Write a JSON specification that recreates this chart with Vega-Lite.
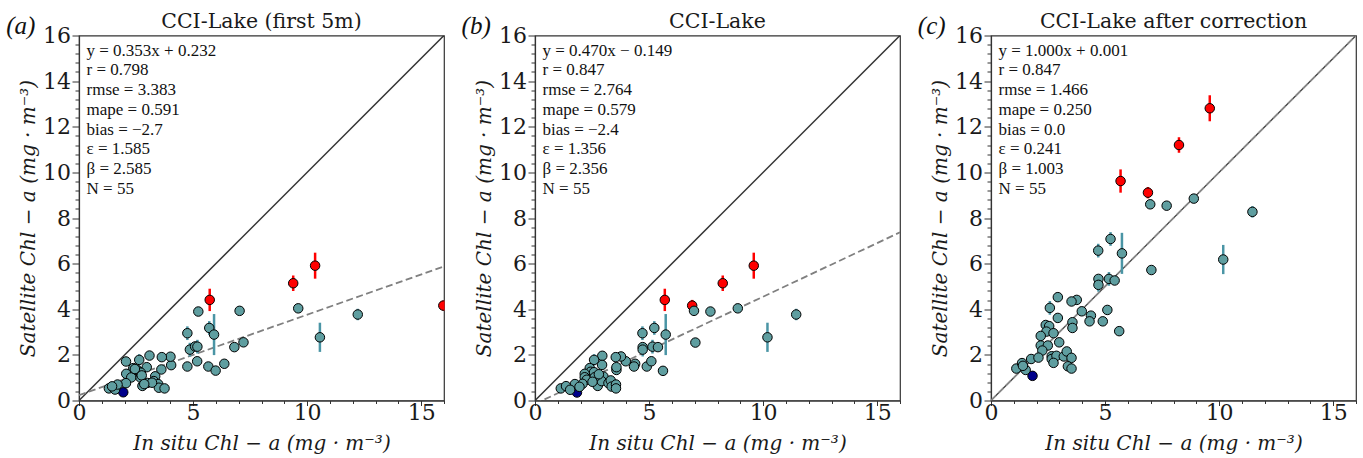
{
  "$schema": "https://vega.github.io/schema/vega-lite/v6.json",
  "padding": {"left": 5, "top": 11.5, "right": 0, "bottom": 0},
  "background": "white",
  "bounds": "flush",
  "spacing": 91,
  "datasets": {
    "pts": [
      {"p":"a","g":"r","x":5.73,"y":4.41,"e":0.49},
      {"p":"a","g":"r","x":9.39,"y":5.14,"e":0.34},
      {"p":"a","g":"r","x":10.35,"y":5.91,"e":0.57},
      {"p":"a","g":"r","x":15.97,"y":4.16,"e":0.22},
      {"p":"a","g":"b","x":1.94,"y":0.36,"e":0.05},
      {"p":"a","g":"t","x":5.23,"y":3.90,"e":0.1},
      {"p":"a","g":"t","x":7.04,"y":3.93,"e":0.15},
      {"p":"a","g":"t","x":9.61,"y":4.04,"e":0.1},
      {"p":"a","g":"t","x":12.22,"y":3.77,"e":0.25},
      {"p":"a","g":"t","x":10.56,"y":2.77,"e":0.64},
      {"p":"a","g":"t","x":5.71,"y":3.18,"e":0.3},
      {"p":"a","g":"t","x":5.92,"y":2.89,"e":0.9},
      {"p":"a","g":"t","x":4.75,"y":2.95,"e":0.3},
      {"p":"a","g":"t","x":4.86,"y":2.23,"e":0.3},
      {"p":"a","g":"t","x":5.09,"y":2.37,"e":0.15},
      {"p":"a","g":"t","x":5.19,"y":2.36,"e":0.3},
      {"p":"a","g":"t","x":6.81,"y":2.34,"e":0.12},
      {"p":"a","g":"t","x":7.21,"y":2.55,"e":0.1},
      {"p":"a","g":"t","x":4.75,"y":1.49,"e":0.1},
      {"p":"a","g":"t","x":5.18,"y":1.72,"e":0.1},
      {"p":"a","g":"t","x":5.67,"y":1.49,"e":0.1},
      {"p":"a","g":"t","x":5.99,"y":1.31,"e":0.1},
      {"p":"a","g":"t","x":6.37,"y":1.61,"e":0.1},
      {"p":"a","g":"t","x":4.04,"y":1.55,"e":0.1},
      {"p":"a","g":"t","x":4.01,"y":1.92,"e":0.1},
      {"p":"a","g":"t","x":3.63,"y":1.90,"e":0.1},
      {"p":"a","g":"t","x":3.09,"y":1.97,"e":0.15},
      {"p":"a","g":"t","x":3.61,"y":1.36,"e":0.1},
      {"p":"a","g":"t","x":2.97,"y":1.46,"e":0.1},
      {"p":"a","g":"t","x":2.64,"y":1.78,"e":0.25},
      {"p":"a","g":"t","x":2.06,"y":1.71,"e":0.1},
      {"p":"a","g":"t","x":2.38,"y":1.42,"e":0.1},
      {"p":"a","g":"t","x":2.60,"y":1.29,"e":0.1},
      {"p":"a","g":"t","x":2.07,"y":1.17,"e":0.1},
      {"p":"a","g":"t","x":2.29,"y":1.01,"e":0.1},
      {"p":"a","g":"t","x":2.70,"y":1.00,"e":0.1},
      {"p":"a","g":"t","x":3.34,"y":1.06,"e":0.1},
      {"p":"a","g":"t","x":2.06,"y":0.76,"e":0.1},
      {"p":"a","g":"t","x":2.78,"y":0.64,"e":0.1},
      {"p":"a","g":"t","x":2.99,"y":0.77,"e":0.1},
      {"p":"a","g":"t","x":3.28,"y":0.85,"e":0.1},
      {"p":"a","g":"t","x":3.47,"y":0.72,"e":0.1},
      {"p":"a","g":"t","x":3.50,"y":0.56,"e":0.1},
      {"p":"a","g":"t","x":3.75,"y":0.53,"e":0.1},
      {"p":"a","g":"t","x":1.31,"y":0.53,"e":0.1},
      {"p":"a","g":"t","x":1.51,"y":0.56,"e":0.1},
      {"p":"a","g":"t","x":1.58,"y":0.48,"e":0.1},
      {"p":"a","g":"t","x":1.69,"y":0.70,"e":0.1},
      {"p":"a","g":"t","x":2.53,"y":1.35,"e":0.1},
      {"p":"a","g":"t","x":2.71,"y":1.22,"e":0.1},
      {"p":"a","g":"t","x":2.75,"y":1.10,"e":0.1},
      {"p":"a","g":"t","x":3.20,"y":0.78,"e":0.1},
      {"p":"a","g":"t","x":2.86,"y":0.72,"e":0.1},
      {"p":"a","g":"t","x":1.45,"y":0.62,"e":0.1},
      {"p":"a","g":"t","x":2.45,"y":1.38,"e":0.1},

      {"p":"b","g":"r","x":5.69,"y":4.41,"e":0.49},
      {"p":"b","g":"r","x":6.89,"y":4.16,"e":0.25},
      {"p":"b","g":"r","x":8.23,"y":5.14,"e":0.34},
      {"p":"b","g":"r","x":9.59,"y":5.91,"e":0.57},
      {"p":"b","g":"b","x":1.84,"y":0.35,"e":0.05},
      {"p":"b","g":"t","x":6.97,"y":3.93,"e":0.15},
      {"p":"b","g":"t","x":7.69,"y":3.90,"e":0.1},
      {"p":"b","g":"t","x":8.89,"y":4.04,"e":0.1},
      {"p":"b","g":"t","x":11.45,"y":3.77,"e":0.25},
      {"p":"b","g":"t","x":10.19,"y":2.77,"e":0.64},
      {"p":"b","g":"t","x":5.23,"y":3.18,"e":0.3},
      {"p":"b","g":"t","x":5.73,"y":2.89,"e":0.9},
      {"p":"b","g":"t","x":4.71,"y":2.95,"e":0.3},
      {"p":"b","g":"t","x":4.72,"y":2.34,"e":0.15},
      {"p":"b","g":"t","x":4.72,"y":2.23,"e":0.3},
      {"p":"b","g":"t","x":5.15,"y":2.36,"e":0.3},
      {"p":"b","g":"t","x":5.39,"y":2.34,"e":0.15},
      {"p":"b","g":"t","x":7.03,"y":2.54,"e":0.1},
      {"p":"b","g":"t","x":4.90,"y":1.49,"e":0.1},
      {"p":"b","g":"t","x":5.10,"y":1.72,"e":0.1},
      {"p":"b","g":"t","x":5.61,"y":1.30,"e":0.1},
      {"p":"b","g":"t","x":4.39,"y":1.61,"e":0.1},
      {"p":"b","g":"t","x":4.34,"y":1.49,"e":0.1},
      {"p":"b","g":"t","x":3.98,"y":1.72,"e":0.1},
      {"p":"b","g":"t","x":3.77,"y":1.93,"e":0.1},
      {"p":"b","g":"t","x":3.54,"y":1.90,"e":0.1},
      {"p":"b","g":"t","x":3.57,"y":1.34,"e":0.1},
      {"p":"b","g":"t","x":3.57,"y":1.46,"e":0.1},
      {"p":"b","g":"t","x":2.95,"y":1.96,"e":0.15},
      {"p":"b","g":"t","x":2.94,"y":1.56,"e":0.1},
      {"p":"b","g":"t","x":2.59,"y":1.78,"e":0.25},
      {"p":"b","g":"t","x":2.40,"y":1.42,"e":0.1},
      {"p":"b","g":"t","x":2.44,"y":1.26,"e":0.1},
      {"p":"b","g":"t","x":2.18,"y":1.17,"e":0.1},
      {"p":"b","g":"t","x":2.18,"y":1.02,"e":0.1},
      {"p":"b","g":"t","x":2.59,"y":1.24,"e":0.1},
      {"p":"b","g":"t","x":2.27,"y":0.91,"e":0.1},
      {"p":"b","g":"t","x":3.00,"y":1.05,"e":0.1},
      {"p":"b","g":"t","x":2.72,"y":0.73,"e":0.1},
      {"p":"b","g":"t","x":2.75,"y":0.64,"e":0.1},
      {"p":"b","g":"t","x":2.92,"y":0.85,"e":0.1},
      {"p":"b","g":"t","x":3.22,"y":0.76,"e":0.1},
      {"p":"b","g":"t","x":3.32,"y":0.88,"e":0.1},
      {"p":"b","g":"t","x":3.36,"y":0.61,"e":0.1},
      {"p":"b","g":"t","x":3.55,"y":0.70,"e":0.1},
      {"p":"b","g":"t","x":3.55,"y":0.53,"e":0.1},
      {"p":"b","g":"t","x":2.08,"y":0.73,"e":0.1},
      {"p":"b","g":"t","x":1.75,"y":0.72,"e":0.1},
      {"p":"b","g":"t","x":1.13,"y":0.53,"e":0.1},
      {"p":"b","g":"t","x":1.36,"y":0.63,"e":0.1},
      {"p":"b","g":"t","x":1.54,"y":0.47,"e":0.1},
      {"p":"b","g":"t","x":2.62,"y":1.02,"e":0.1},
      {"p":"b","g":"t","x":2.80,"y":1.15,"e":0.1},
      {"p":"b","g":"t","x":2.52,"y":0.82,"e":0.1},
      {"p":"b","g":"t","x":1.95,"y":0.60,"e":0.1},

      {"p":"c","g":"r","x":5.68,"y":9.62,"e":0.51},
      {"p":"c","g":"r","x":6.88,"y":9.11,"e":0.25},
      {"p":"c","g":"r","x":8.24,"y":11.20,"e":0.34},
      {"p":"c","g":"r","x":9.59,"y":12.81,"e":0.57},
      {"p":"c","g":"b","x":1.82,"y":1.08,"e":0.05},
      {"p":"c","g":"t","x":6.98,"y":8.60,"e":0.12},
      {"p":"c","g":"t","x":7.70,"y":8.54,"e":0.08},
      {"p":"c","g":"t","x":8.89,"y":8.85,"e":0.08},
      {"p":"c","g":"t","x":11.46,"y":8.27,"e":0.25},
      {"p":"c","g":"t","x":10.18,"y":6.18,"e":0.64},
      {"p":"c","g":"t","x":5.24,"y":7.08,"e":0.3},
      {"p":"c","g":"t","x":5.74,"y":6.45,"e":0.9},
      {"p":"c","g":"t","x":4.70,"y":6.57,"e":0.3},
      {"p":"c","g":"t","x":4.71,"y":5.33,"e":0.15},
      {"p":"c","g":"t","x":4.71,"y":5.07,"e":0.3},
      {"p":"c","g":"t","x":5.17,"y":5.33,"e":0.3},
      {"p":"c","g":"t","x":5.42,"y":5.26,"e":0.2},
      {"p":"c","g":"t","x":7.03,"y":5.72,"e":0.1},
      {"p":"c","g":"t","x":5.10,"y":3.97,"e":0.1},
      {"p":"c","g":"t","x":4.90,"y":3.47,"e":0.1},
      {"p":"c","g":"t","x":5.62,"y":3.04,"e":0.1},
      {"p":"c","g":"t","x":4.38,"y":3.72,"e":0.1},
      {"p":"c","g":"t","x":4.32,"y":3.47,"e":0.1},
      {"p":"c","g":"t","x":3.98,"y":3.91,"e":0.1},
      {"p":"c","g":"t","x":3.76,"y":4.41,"e":0.1},
      {"p":"c","g":"t","x":3.53,"y":4.34,"e":0.1},
      {"p":"c","g":"t","x":3.57,"y":3.43,"e":0.1},
      {"p":"c","g":"t","x":3.57,"y":3.18,"e":0.1},
      {"p":"c","g":"t","x":2.93,"y":4.53,"e":0.2},
      {"p":"c","g":"t","x":2.93,"y":3.62,"e":0.1},
      {"p":"c","g":"t","x":2.58,"y":4.06,"e":0.3},
      {"p":"c","g":"t","x":2.40,"y":3.31,"e":0.1},
      {"p":"c","g":"t","x":2.55,"y":3.26,"e":0.1},
      {"p":"c","g":"t","x":2.43,"y":3.02,"e":0.1},
      {"p":"c","g":"t","x":2.74,"y":2.95,"e":0.1},
      {"p":"c","g":"t","x":2.99,"y":2.55,"e":0.1},
      {"p":"c","g":"t","x":2.18,"y":2.83,"e":0.1},
      {"p":"c","g":"t","x":2.18,"y":2.41,"e":0.1},
      {"p":"c","g":"t","x":2.49,"y":2.41,"e":0.1},
      {"p":"c","g":"t","x":2.25,"y":2.19,"e":0.1},
      {"p":"c","g":"t","x":2.66,"y":1.94,"e":0.1},
      {"p":"c","g":"t","x":2.66,"y":1.82,"e":0.1},
      {"p":"c","g":"t","x":2.87,"y":1.96,"e":0.1},
      {"p":"c","g":"t","x":2.74,"y":1.65,"e":0.1},
      {"p":"c","g":"t","x":3.19,"y":1.93,"e":0.1},
      {"p":"c","g":"t","x":3.32,"y":2.15,"e":0.1},
      {"p":"c","g":"t","x":3.53,"y":1.87,"e":0.1},
      {"p":"c","g":"t","x":3.37,"y":1.50,"e":0.1},
      {"p":"c","g":"t","x":3.53,"y":1.40,"e":0.1},
      {"p":"c","g":"t","x":1.76,"y":1.82,"e":0.1},
      {"p":"c","g":"t","x":2.08,"y":1.88,"e":0.1},
      {"p":"c","g":"t","x":1.11,"y":1.40,"e":0.1},
      {"p":"c","g":"t","x":1.36,"y":1.64,"e":0.1},
      {"p":"c","g":"t","x":1.52,"y":1.34,"e":0.1},
      {"p":"c","g":"t","x":1.40,"y":1.52,"e":0.1}
    ],
    "lines": [
      {"p":"a","k":"one","x":0,"y":0},{"p":"a","k":"one","x":16,"y":16},
      {"p":"a","k":"fit","x":0,"y":0.232},{"p":"a","k":"fit","x":16,"y":5.88},
      {"p":"b","k":"one","x":0,"y":0},{"p":"b","k":"one","x":16,"y":16},
      {"p":"b","k":"fit","x":0,"y":-0.149},{"p":"b","k":"fit","x":16,"y":7.371},
      {"p":"c","k":"one","x":0,"y":0},{"p":"c","k":"one","x":16,"y":16},
      {"p":"c","k":"fit","x":0,"y":0.001},{"p":"c","k":"fit","x":16,"y":16.001}
    ],
    "notes": [
      {"p":"a","lab":"(a)","tx":0.33,"ty":15.68,"lx":-2.55,"ly":16.42,"s":"y = 0.353x + 0.232\nr = 0.798\nrmse = 3.383\nmape = 0.591\nbias = −2.7\nε = 1.585\nβ = 2.585\nN = 55"},
      {"p":"b","lab":"(b)","tx":0.33,"ty":15.68,"lx":-2.58,"ly":16.42,"s":"y = 0.470x − 0.149\nr = 0.847\nrmse = 2.764\nmape = 0.579\nbias = −2.4\nε = 1.356\nβ = 2.356\nN = 55"},
      {"p":"c","lab":"(c)","tx":0.33,"ty":15.68,"lx":-2.6,"ly":16.42,"s":"y = 1.000x + 0.001\nr = 0.847\nrmse = 1.466\nmape = 0.250\nbias = 0.0\nε = 0.241\nβ = 1.003\nN = 55"}
    ]
  },
  "hconcat": [
    {
      "width": 365, "height": 365,
      "title": {"text": "CCI-Lake (first 5m)", "frame": "group", "offset": -19},
      "encoding": {
        "x": {"field": "x", "type": "quantitative", "scale": {"domain": [0, 16], "nice": false},
          "axis": {"title": "In situ Chl − a (mg · m⁻³)", "values": [0,1,2,3,4,5,6,7,8,9,10,11,12,13,14,15,16], "labelExpr": "datum.value % 5 === 0 ? format(datum.value, 'd') : ''", "tickSize": {"condition": {"test": "datum.value % 5 === 0", "value": 5}, "value": 3}, "labelPadding": -3, "titlePadding": 10}},
        "y": {"field": "y", "type": "quantitative", "scale": {"domain": [0, 16], "nice": false},
          "axis": {"title": "Satellite Chl − a (mg · m⁻³)", "values": [0,0.4,0.8,1.2,1.6,2,2.4,2.8,3.2,3.6,4,4.4,4.8,5.2,5.6,6,6.4,6.8,7.2,7.6,8,8.4,8.8,9.2,9.6,10,10.4,10.8,11.2,11.6,12,12.4,12.8,13.2,13.6,14,14.4,14.8,15.2,15.6,16], "labelExpr": "datum.value % 2 === 0 ? format(datum.value, 'd') : ''", "tickSize": {"condition": {"test": "datum.value % 2 === 0", "value": 7}, "value": 4}, "labelPadding": 1.5, "titlePadding": 4}}
      },
      "layer": [
        {"data": {"name": "lines"}, "transform": [{"filter": "datum.p === 'a' && datum.k === 'one'"}], "mark": {"type": "line", "color": "#333333", "strokeWidth": 1.5, "clip": true}},
        {"data": {"name": "lines"}, "transform": [{"filter": "datum.p === 'a' && datum.k === 'fit'"}], "mark": {"type": "line", "color": "#808080", "strokeWidth": 1.8, "strokeDash": [7, 3.5], "clip": true}},
        {"data": {"name": "pts"}, "transform": [{"filter": "datum.p === 'a'"}], "mark": {"type": "errorbar", "thickness": 2.5},
          "encoding": {"yError": {"field": "e"}, "color": {"field": "g", "type": "nominal", "scale": {"domain": ["t","r","b"], "range": ["#4a95a5","#ff0000","#00008b"]}, "legend": null}}},
        {"data": {"name": "pts"}, "transform": [{"filter": "datum.p === 'a'"}], "mark": {"type": "point", "filled": true, "size": 90, "stroke": "#000000", "strokeWidth": 1, "opacity": 1, "clip": true},
          "encoding": {"fill": {"field": "g", "type": "nominal", "scale": {"domain": ["t","r","b"], "range": ["#5f9ea0","#ff0000","#00008b"]}, "legend": null}}},
        {"data": {"name": "notes"}, "transform": [{"filter": "datum.p === 'a'"}], "mark": {"type": "text", "align": "left", "baseline": "top", "font": "Liberation Serif", "fontSize": 17, "lineBreak": "\n", "lineHeight": 19.7, "color": "#111111"},
          "encoding": {"x": {"field": "tx", "type": "quantitative"}, "y": {"field": "ty", "type": "quantitative"}, "text": {"field": "s"}}},
        {"data": {"name": "notes"}, "transform": [{"filter": "datum.p === 'a'"}], "mark": {"type": "text", "align": "center", "baseline": "middle", "font": "Liberation Serif", "fontSize": 25, "fontStyle": "italic", "color": "#111111"},
          "encoding": {"x": {"field": "lx", "type": "quantitative"}, "y": {"field": "ly", "type": "quantitative"}, "text": {"field": "lab"}}}
      ]
    },
    {
      "width": 365, "height": 365,
      "title": {"text": "CCI-Lake", "frame": "group", "offset": -19},
      "encoding": {
        "x": {"field": "x", "type": "quantitative", "scale": {"domain": [0, 16], "nice": false},
          "axis": {"title": "In situ Chl − a (mg · m⁻³)", "values": [0,1,2,3,4,5,6,7,8,9,10,11,12,13,14,15,16], "labelExpr": "datum.value % 5 === 0 ? format(datum.value, 'd') : ''", "tickSize": {"condition": {"test": "datum.value % 5 === 0", "value": 5}, "value": 3}, "labelPadding": -3, "titlePadding": 10}},
        "y": {"field": "y", "type": "quantitative", "scale": {"domain": [0, 16], "nice": false},
          "axis": {"title": "Satellite Chl − a (mg · m⁻³)", "values": [0,0.4,0.8,1.2,1.6,2,2.4,2.8,3.2,3.6,4,4.4,4.8,5.2,5.6,6,6.4,6.8,7.2,7.6,8,8.4,8.8,9.2,9.6,10,10.4,10.8,11.2,11.6,12,12.4,12.8,13.2,13.6,14,14.4,14.8,15.2,15.6,16], "labelExpr": "datum.value % 2 === 0 ? format(datum.value, 'd') : ''", "tickSize": {"condition": {"test": "datum.value % 2 === 0", "value": 7}, "value": 4}, "labelPadding": 1.5, "titlePadding": 4}}
      },
      "layer": [
        {"data": {"name": "lines"}, "transform": [{"filter": "datum.p === 'b' && datum.k === 'one'"}], "mark": {"type": "line", "color": "#333333", "strokeWidth": 1.5, "clip": true}},
        {"data": {"name": "lines"}, "transform": [{"filter": "datum.p === 'b' && datum.k === 'fit'"}], "mark": {"type": "line", "color": "#808080", "strokeWidth": 1.8, "strokeDash": [7, 3.5], "clip": true}},
        {"data": {"name": "pts"}, "transform": [{"filter": "datum.p === 'b'"}], "mark": {"type": "errorbar", "thickness": 2.5},
          "encoding": {"yError": {"field": "e"}, "color": {"field": "g", "type": "nominal", "scale": {"domain": ["t","r","b"], "range": ["#4a95a5","#ff0000","#00008b"]}, "legend": null}}},
        {"data": {"name": "pts"}, "transform": [{"filter": "datum.p === 'b'"}], "mark": {"type": "point", "filled": true, "size": 90, "stroke": "#000000", "strokeWidth": 1, "opacity": 1, "clip": true},
          "encoding": {"fill": {"field": "g", "type": "nominal", "scale": {"domain": ["t","r","b"], "range": ["#5f9ea0","#ff0000","#00008b"]}, "legend": null}}},
        {"data": {"name": "notes"}, "transform": [{"filter": "datum.p === 'b'"}], "mark": {"type": "text", "align": "left", "baseline": "top", "font": "Liberation Serif", "fontSize": 17, "lineBreak": "\n", "lineHeight": 19.7, "color": "#111111"},
          "encoding": {"x": {"field": "tx", "type": "quantitative"}, "y": {"field": "ty", "type": "quantitative"}, "text": {"field": "s"}}},
        {"data": {"name": "notes"}, "transform": [{"filter": "datum.p === 'b'"}], "mark": {"type": "text", "align": "center", "baseline": "middle", "font": "Liberation Serif", "fontSize": 25, "fontStyle": "italic", "color": "#111111"},
          "encoding": {"x": {"field": "lx", "type": "quantitative"}, "y": {"field": "ly", "type": "quantitative"}, "text": {"field": "lab"}}}
      ]
    },
    {
      "width": 365, "height": 365,
      "title": {"text": "CCI-Lake after correction", "frame": "group", "offset": -19},
      "encoding": {
        "x": {"field": "x", "type": "quantitative", "scale": {"domain": [0, 16], "nice": false},
          "axis": {"title": "In situ Chl − a (mg · m⁻³)", "values": [0,1,2,3,4,5,6,7,8,9,10,11,12,13,14,15,16], "labelExpr": "datum.value % 5 === 0 ? format(datum.value, 'd') : ''", "tickSize": {"condition": {"test": "datum.value % 5 === 0", "value": 5}, "value": 3}, "labelPadding": -3, "titlePadding": 10}},
        "y": {"field": "y", "type": "quantitative", "scale": {"domain": [0, 16], "nice": false},
          "axis": {"title": "Satellite Chl − a (mg · m⁻³)", "values": [0,0.4,0.8,1.2,1.6,2,2.4,2.8,3.2,3.6,4,4.4,4.8,5.2,5.6,6,6.4,6.8,7.2,7.6,8,8.4,8.8,9.2,9.6,10,10.4,10.8,11.2,11.6,12,12.4,12.8,13.2,13.6,14,14.4,14.8,15.2,15.6,16], "labelExpr": "datum.value % 2 === 0 ? format(datum.value, 'd') : ''", "tickSize": {"condition": {"test": "datum.value % 2 === 0", "value": 7}, "value": 4}, "labelPadding": 1.5, "titlePadding": 4}}
      },
      "layer": [
        {"data": {"name": "lines"}, "transform": [{"filter": "datum.p === 'c' && datum.k === 'one'"}], "mark": {"type": "line", "color": "#444444", "strokeWidth": 1.3, "clip": true}},
        {"data": {"name": "lines"}, "transform": [{"filter": "datum.p === 'c' && datum.k === 'fit'"}], "mark": {"type": "line", "color": "#8a8a8a", "strokeWidth": 1.6, "strokeDash": [7, 3.5], "clip": true}},
        {"data": {"name": "pts"}, "transform": [{"filter": "datum.p === 'c'"}], "mark": {"type": "errorbar", "thickness": 2.5},
          "encoding": {"yError": {"field": "e"}, "color": {"field": "g", "type": "nominal", "scale": {"domain": ["t","r","b"], "range": ["#4a95a5","#ff0000","#00008b"]}, "legend": null}}},
        {"data": {"name": "pts"}, "transform": [{"filter": "datum.p === 'c'"}], "mark": {"type": "point", "filled": true, "size": 90, "stroke": "#000000", "strokeWidth": 1, "opacity": 1, "clip": true},
          "encoding": {"fill": {"field": "g", "type": "nominal", "scale": {"domain": ["t","r","b"], "range": ["#5f9ea0","#ff0000","#00008b"]}, "legend": null}}},
        {"data": {"name": "notes"}, "transform": [{"filter": "datum.p === 'c'"}], "mark": {"type": "text", "align": "left", "baseline": "top", "font": "Liberation Serif", "fontSize": 17, "lineBreak": "\n", "lineHeight": 19.7, "color": "#111111"},
          "encoding": {"x": {"field": "tx", "type": "quantitative"}, "y": {"field": "ty", "type": "quantitative"}, "text": {"field": "s"}}},
        {"data": {"name": "notes"}, "transform": [{"filter": "datum.p === 'c'"}], "mark": {"type": "text", "align": "center", "baseline": "middle", "font": "Liberation Serif", "fontSize": 25, "fontStyle": "italic", "color": "#111111"},
          "encoding": {"x": {"field": "lx", "type": "quantitative"}, "y": {"field": "ly", "type": "quantitative"}, "text": {"field": "lab"}}}
      ]
    }
  ],
  "config": {
    "view": {"stroke": "#333333", "strokeWidth": 1.2},
    "axis": {"domainColor": "#333333", "domainWidth": 1.2, "tickColor": "#333333", "tickWidth": 1, "labelFont": "DejaVu Serif", "labelFontSize": 22, "labelColor": "#1a1a1a", "titleFont": "DejaVu Serif", "titleFontSize": 20, "titleFontStyle": "italic", "titleFontWeight": "normal", "titleColor": "#1a1a1a", "grid": false, "labelOverlap": false, "labelFlush": false},
    "title": {"font": "DejaVu Serif", "fontSize": 20.5, "fontWeight": "normal", "color": "#1a1a1a"}
  }
}
